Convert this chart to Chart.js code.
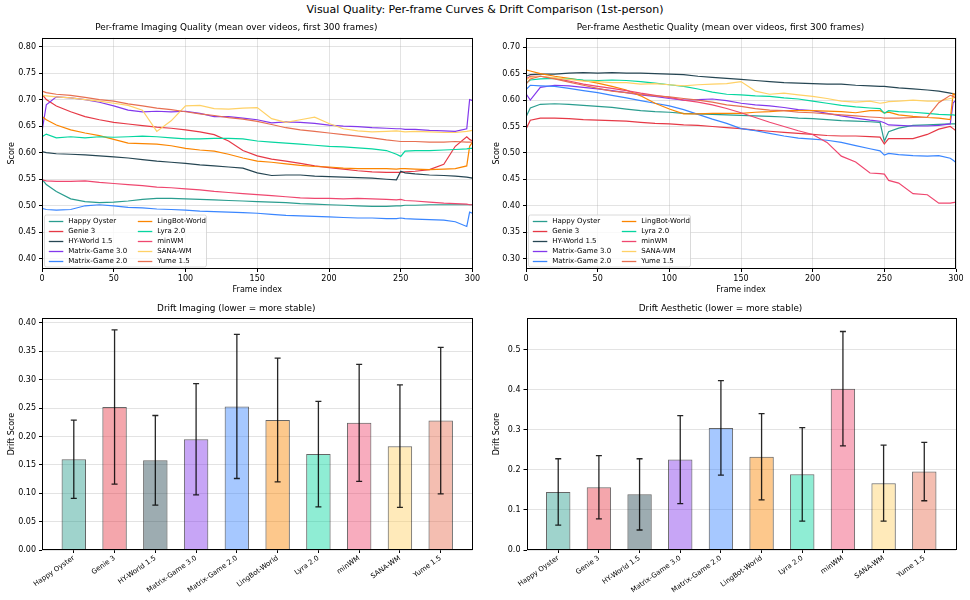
<!DOCTYPE html>
<html>
<head>
<meta charset="utf-8">
<script src="https://cdn.jsdelivr.net/npm/chart.js@4.4.0/dist/chart.umd.min.js"></script>
<style>
  html, body { margin: 0; padding: 0; background: #fff; }
  #page { position: relative; width: 970px; height: 600px; overflow: hidden; font-family: "DejaVu Sans", sans-serif; }
  #suptitle { position: absolute; left: 0; top: 3px; width: 970px; text-align: center; font-size: 11px; color: #000; }
  canvas { position: absolute; }
</style>
</head>
<body>
<div id="page">
  <div id="suptitle">Visual Quality: Per-frame Curves &amp; Drift Comparison (1st-person)</div>
  <canvas id="imgCurve" width="485" height="280" style="left:0px;top:20px"></canvas>
  <canvas id="aesCurve" width="485" height="280" style="left:485px;top:20px"></canvas>
  <canvas id="imgDrift" width="485" height="300" style="left:0px;top:300px"></canvas>
  <canvas id="aesDrift" width="485" height="300" style="left:485px;top:300px"></canvas>
</div>
<script>
// ---- data ----
const models = ['Happy Oyster', 'Genie 3', 'HY-World 1.5', 'Matrix-Game 3.0', 'Matrix-Game 2.0',
                'LingBot-World', 'Lyra 2.0', 'minWM', 'SANA-WM', 'Yume 1.5'];
const colors = ['#2a9d8f', '#e63946', '#264653', '#8338ec', '#3a86ff',
                '#fb8500', '#06d6a0', '#ef476f', '#ffd166', '#e76f51'];

const frames = [0,3,10,20,30,40,50,60,70,80,90,100,110,120,130,140,150,160,170,180,190,200,
                210,220,230,240,247,250,253,260,270,280,288,296,298,300];

// per-frame imaging quality
const imgHappyOyster = [0.550,0.540,0.527,0.513,0.508,0.506,0.507,0.509,0.512,0.514,0.514,0.513,0.512,0.511,0.510,0.509,0.508,0.507,0.506,0.504,0.503,0.502,0.501,0.500,0.499,0.499,0.500,0.500,0.501,0.501,0.502,0.502,0.502,0.502,0.502,0.502];
const imgGenie3 = [0.710,0.700,0.688,0.677,0.668,0.662,0.657,0.654,0.651,0.648,0.646,0.643,0.639,0.634,0.622,0.604,0.594,0.588,0.584,0.580,0.575,0.572,0.569,0.566,0.564,0.563,0.563,0.563,0.564,0.565,0.568,0.578,0.612,0.630,0.625,0.622];
const imgHYWorld = [0.602,0.600,0.598,0.597,0.596,0.594,0.592,0.590,0.587,0.584,0.582,0.580,0.577,0.575,0.573,0.571,0.562,0.557,0.558,0.558,0.556,0.555,0.554,0.553,0.552,0.550,0.549,0.565,0.562,0.560,0.558,0.557,0.556,0.554,0.553,0.552];
const imgMG3 = [0.640,0.690,0.705,0.703,0.700,0.695,0.688,0.680,0.677,0.678,0.677,0.678,0.674,0.668,0.668,0.665,0.662,0.656,0.658,0.657,0.655,0.652,0.650,0.649,0.647,0.646,0.645,0.645,0.644,0.644,0.642,0.641,0.640,0.645,0.700,0.698];
const imgMG2 = [0.495,0.493,0.492,0.493,0.500,0.502,0.500,0.497,0.496,0.494,0.493,0.492,0.490,0.489,0.488,0.487,0.486,0.484,0.482,0.481,0.480,0.479,0.478,0.477,0.477,0.476,0.476,0.477,0.476,0.475,0.474,0.473,0.470,0.461,0.488,0.486];
const imgLingBot = [0.668,0.662,0.652,0.643,0.637,0.632,0.625,0.618,0.617,0.616,0.613,0.608,0.605,0.603,0.597,0.590,0.584,0.582,0.579,0.576,0.574,0.573,0.571,0.570,0.570,0.570,0.569,0.570,0.570,0.569,0.568,0.569,0.570,0.575,0.612,0.620];
const imgLyra = [0.630,0.635,0.628,0.630,0.628,0.630,0.629,0.630,0.631,0.630,0.628,0.626,0.626,0.627,0.627,0.626,0.622,0.620,0.618,0.616,0.614,0.612,0.611,0.609,0.607,0.604,0.597,0.593,0.603,0.604,0.604,0.605,0.606,0.607,0.608,0.608];
const imgMinWM = [0.549,0.547,0.546,0.546,0.547,0.544,0.542,0.540,0.538,0.535,0.534,0.532,0.530,0.527,0.525,0.523,0.521,0.519,0.517,0.515,0.514,0.514,0.513,0.514,0.513,0.512,0.511,0.512,0.510,0.509,0.507,0.505,0.504,0.503,0.502,0.502];
const imgSana = [0.708,0.707,0.705,0.703,0.700,0.697,0.693,0.689,0.680,0.640,0.660,0.688,0.689,0.683,0.682,0.684,0.685,0.664,0.657,0.662,0.667,0.655,0.645,0.641,0.639,0.640,0.641,0.640,0.639,0.640,0.639,0.638,0.638,0.640,0.641,0.642];
const imgYume = [0.716,0.713,0.710,0.708,0.704,0.700,0.697,0.692,0.688,0.684,0.681,0.677,0.673,0.670,0.666,0.663,0.659,0.653,0.647,0.643,0.640,0.637,0.634,0.631,0.628,0.624,0.622,0.621,0.621,0.621,0.620,0.620,0.621,0.620,0.620,0.620];

// per-frame aesthetic quality
const aesHappyOyster = [0.568,0.585,0.592,0.593,0.592,0.590,0.588,0.586,0.583,0.580,0.578,0.577,0.575,0.574,0.573,0.572,0.571,0.570,0.569,0.568,0.566,0.565,0.563,0.561,0.560,0.559,0.558,0.522,0.540,0.547,0.552,0.553,0.554,0.555,0.555,0.555];
const aesGenie3 = [0.545,0.562,0.566,0.566,0.565,0.563,0.562,0.561,0.560,0.558,0.556,0.555,0.553,0.552,0.550,0.548,0.546,0.543,0.541,0.539,0.537,0.535,0.533,0.532,0.532,0.531,0.530,0.517,0.527,0.527,0.527,0.535,0.545,0.550,0.546,0.542];
const aesHYWorld = [0.645,0.648,0.649,0.649,0.651,0.652,0.651,0.652,0.651,0.651,0.650,0.649,0.648,0.645,0.643,0.641,0.639,0.637,0.635,0.633,0.632,0.631,0.630,0.630,0.628,0.627,0.626,0.626,0.625,0.623,0.621,0.619,0.617,0.613,0.612,0.611];
const aesMG3 = [0.612,0.600,0.624,0.628,0.627,0.624,0.621,0.618,0.614,0.610,0.607,0.603,0.600,0.601,0.602,0.599,0.594,0.591,0.589,0.586,0.582,0.580,0.575,0.570,0.566,0.562,0.560,0.557,0.553,0.552,0.551,0.551,0.552,0.555,0.595,0.600];
const aesMG2 = [0.620,0.628,0.627,0.626,0.622,0.618,0.614,0.609,0.604,0.599,0.594,0.589,0.582,0.573,0.564,0.556,0.546,0.542,0.537,0.532,0.528,0.526,0.524,0.520,0.514,0.508,0.504,0.496,0.499,0.497,0.495,0.494,0.495,0.490,0.486,0.482];
const aesLingBot = [0.657,0.655,0.650,0.645,0.641,0.637,0.632,0.626,0.619,0.608,0.594,0.583,0.574,0.574,0.575,0.575,0.575,0.577,0.578,0.580,0.580,0.580,0.579,0.578,0.576,0.580,0.580,0.576,0.577,0.572,0.569,0.567,0.566,0.563,0.612,0.608];
const aesLyra = [0.632,0.638,0.640,0.641,0.640,0.638,0.637,0.638,0.637,0.635,0.632,0.629,0.626,0.621,0.615,0.611,0.610,0.608,0.607,0.604,0.602,0.598,0.594,0.590,0.587,0.585,0.584,0.575,0.580,0.578,0.577,0.575,0.573,0.572,0.572,0.571];
const aesMinWM = [0.640,0.645,0.645,0.641,0.636,0.630,0.626,0.622,0.618,0.613,0.609,0.605,0.600,0.596,0.591,0.584,0.576,0.567,0.558,0.550,0.542,0.535,0.520,0.494,0.483,0.462,0.461,0.460,0.448,0.443,0.423,0.421,0.405,0.405,0.406,0.407];
const aesSana = [0.638,0.643,0.645,0.642,0.639,0.636,0.635,0.633,0.633,0.630,0.631,0.629,0.627,0.629,0.630,0.631,0.635,0.617,0.611,0.613,0.610,0.607,0.603,0.598,0.596,0.598,0.594,0.595,0.597,0.598,0.600,0.598,0.598,0.603,0.604,0.605];
const aesYume = [0.630,0.640,0.645,0.640,0.634,0.628,0.622,0.617,0.614,0.611,0.608,0.606,0.603,0.600,0.596,0.591,0.588,0.584,0.581,0.580,0.577,0.576,0.574,0.572,0.570,0.568,0.567,0.566,0.566,0.566,0.567,0.568,0.595,0.609,0.607,0.604];

// drift (mean and std)
const driftImgMean = [0.160, 0.252, 0.158, 0.195, 0.253, 0.229, 0.169, 0.224, 0.183, 0.228];
const driftImgStd  = [0.069, 0.136, 0.079, 0.098, 0.127, 0.109, 0.093, 0.103, 0.108, 0.129];
const driftAesMean = [0.145, 0.157, 0.139, 0.226, 0.305, 0.233, 0.189, 0.403, 0.167, 0.196];
const driftAesStd  = [0.083, 0.079, 0.089, 0.110, 0.118, 0.108, 0.117, 0.143, 0.095, 0.073];

// tick labels
const frameTicks = [0, 50, 100, 150, 200, 250, 300];
const imgCurveTicks = [0.40, 0.45, 0.50, 0.55, 0.60, 0.65, 0.70, 0.75, 0.80];
const aesCurveTicks = [0.30, 0.35, 0.40, 0.45, 0.50, 0.55, 0.60, 0.65, 0.70];
const imgDriftTicks = [0.00, 0.05, 0.10, 0.15, 0.20, 0.25, 0.30, 0.35, 0.40];
const aesDriftTicks = [0.0, 0.1, 0.2, 0.3, 0.4, 0.5];

const imgSeries = [imgHappyOyster, imgGenie3, imgHYWorld, imgMG3, imgMG2, imgLingBot, imgLyra, imgMinWM, imgSana, imgYume];
const aesSeries = [aesHappyOyster, aesGenie3, aesHYWorld, aesMG3, aesMG2, aesLingBot, aesLyra, aesMinWM, aesSana, aesYume];

// ---- helpers ----
Chart.defaults.font.family = '"DejaVu Sans", sans-serif';
Chart.defaults.color = '#000';

function fade(hex, a) {
  const n = parseInt(hex.slice(1), 16);
  return 'rgba(' + (n >> 16) + ',' + ((n >> 8) & 255) + ',' + (n & 255) + ',' + a + ')';
}

const GRID = 'rgba(176,176,176,0.35)';

// black box round the plot area (all four spines)
const spines = {
  id: 'spines',
  afterDraw(chart) {
    const a = chart.chartArea, ctx = chart.ctx;
    ctx.save();
    ctx.strokeStyle = '#000';
    ctx.lineWidth = 1;
    ctx.strokeRect(Math.round(a.left) + 0.5, Math.round(a.top) + 0.5,
                   Math.round(a.right - a.left) - 1, Math.round(a.bottom - a.top) - 1);
    ctx.restore();
  }
};

// two-column legend in the lower-left corner of the plot
const boxLegend = {
  id: 'boxLegend',
  afterDraw(chart) {
    const a = chart.chartArea, ctx = chart.ctx;
    const bw = 162, bh = 52;
    const bx = a.left + 2.5, by = a.bottom - 2 - bh;
    ctx.save();
    ctx.beginPath();
    ctx.roundRect(bx, by, bw, bh, 2);
    ctx.fillStyle = 'rgba(255,255,255,0.8)';
    ctx.fill();
    ctx.strokeStyle = '#d0d0d0';
    ctx.lineWidth = 0.8;
    ctx.stroke();
    ctx.font = '7px "DejaVu Sans"';
    ctx.textBaseline = 'middle';
    chart.data.datasets.forEach((ds, i) => {
      const hx = bx + (i < 5 ? 4.3 : 93.3);
      const ty = by + 6.5 + (i % 5) * 10;
      ctx.strokeStyle = ds.borderColor;
      ctx.lineWidth = 1.3;
      ctx.beginPath();
      ctx.moveTo(hx, ty);
      ctx.lineTo(hx + 14.5, ty);
      ctx.stroke();
      ctx.fillStyle = '#000';
      ctx.fillText(ds.label, hx + 19.4, ty);
    });
    ctx.restore();
  }
};

// symmetric error bars (std) on top of the bars
const errorBars = {
  id: 'errorBars',
  afterDatasetsDraw(chart) {
    const ctx = chart.ctx, x = chart.scales.x, y = chart.scales.y;
    const ds = chart.data.datasets[0];
    ctx.save();
    ctx.strokeStyle = 'rgba(0,0,0,0.85)';
    ctx.lineWidth = 1.3;
    ds.data.forEach((p, i) => {
      const px = x.getPixelForValue(p.x);
      const top = y.getPixelForValue(p.y + ds.errors[i]);
      const bot = y.getPixelForValue(p.y - ds.errors[i]);
      ctx.beginPath();
      ctx.moveTo(px, top); ctx.lineTo(px, bot);
      ctx.moveTo(px - 3, top); ctx.lineTo(px + 3, top);
      ctx.moveTo(px - 3, bot); ctx.lineTo(px + 3, bot);
      ctx.stroke();
    });
    ctx.restore();
  }
};

function curveChart(id, title, series, yMin, yMax, yTicks, yAxisW, padRight) {
  const datasets = series.map((vals, i) => ({
    label: models[i],
    data: frames.map((f, k) => ({ x: f, y: vals[k] })),
    borderColor: colors[i],
    borderWidth: 1.2,
    pointRadius: 0,
    tension: 0,
    order: 10 - i
  }));
  return new Chart(document.getElementById(id), {
    type: 'line',
    data: { datasets },
    options: {
      responsive: false,
      animation: false,
      layout: { padding: { left: 0, right: padRight, top: 0, bottom: 0 } },
      plugins: {
        legend: { display: false },
        tooltip: { enabled: false },
        title: { display: true, text: title, font: { size: 8.9, weight: 'normal' }, padding: { top: 2.4, bottom: 4.6 } }
      },
      scales: {
        x: {
          type: 'linear', min: 0, max: 300,
          afterBuildTicks: s => { s.ticks = frameTicks.map(v => ({ value: v })); },
          afterFit: s => { s.height = 31; },
          ticks: { font: { size: 8 }, padding: 2, maxRotation: 0 },
          grid: { color: GRID, tickColor: '#000', tickLength: 3 },
          border: { display: false },
          title: { display: true, text: 'Frame index', font: { size: 8 }, padding: { top: 0, bottom: 5.5 } }
        },
        y: {
          min: yMin, max: yMax,
          afterBuildTicks: s => { s.ticks = yTicks.map(v => ({ value: v })); },
          afterFit: s => { s.width = yAxisW; },
          ticks: { font: { size: 8 }, padding: 3, callback: v => v.toFixed(2) },
          grid: { color: GRID, tickColor: '#000', tickLength: 3 },
          border: { display: false },
          title: { display: true, text: 'Score', font: { size: 8 }, padding: { top: 7.5, bottom: 0 } }
        }
      }
    },
    plugins: [spines, boxLegend]
  });
}

function driftChart(id, title, mean, std, yMax, yTicks, decimals, yAxisW, padRight) {
  return new Chart(document.getElementById(id), {
    type: 'bar',
    data: {
      datasets: [{
        data: mean.map((v, i) => ({ x: i, y: v })),
        errors: std,
        backgroundColor: colors.map(c => fade(c, 0.45)),
        borderColor: 'rgba(0,0,0,0.6)',
        borderWidth: 1,
        barPercentage: 0.6,
        categoryPercentage: 1
      }]
    },
    options: {
      responsive: false,
      animation: false,
      layout: { padding: { left: 0, right: padRight, top: 0, bottom: 0 } },
      plugins: {
        legend: { display: false },
        tooltip: { enabled: false },
        title: { display: true, text: title, font: { size: 8.9, weight: 'normal' }, padding: { top: 3.4, bottom: 4.2 } }
      },
      scales: {
        x: {
          type: 'linear', min: -0.78, max: 9.78, offset: false,
          afterBuildTicks: s => { s.ticks = models.map((m, i) => ({ value: i })); },
          afterFit: s => { s.height = 50; },
          ticks: { font: { size: 7 }, padding: 1, autoSkip: false, minRotation: 35, maxRotation: 35,
                   callback: v => models[v] },
          grid: { offset: false, drawOnChartArea: false, tickColor: '#000', tickLength: 3 },
          border: { display: false }
        },
        y: {
          min: 0, max: yMax,
          afterBuildTicks: s => { s.ticks = yTicks.map(v => ({ value: v })); },
          afterFit: s => { s.width = yAxisW; },
          ticks: { font: { size: 8 }, padding: 3, callback: v => v.toFixed(decimals) },
          grid: { color: GRID, tickColor: '#000', tickLength: 3 },
          border: { display: false },
          title: { display: true, text: 'Drift Score', font: { size: 8 }, padding: { top: 7.5, bottom: 0 } }
        }
      }
    },
    plugins: [spines, errorBars]
  });
}

curveChart('imgCurve', 'Per-frame Imaging Quality (mean over videos, first 300 frames)',
           imgSeries, 0.381, 0.8165, imgCurveTicks, 42, 12.5);
curveChart('aesCurve', 'Per-frame Aesthetic Quality (mean over videos, first 300 frames)',
           aesSeries, 0.2805, 0.718, aesCurveTicks, 41, 14);
driftChart('imgDrift', 'Drift Imaging (lower = more stable)', driftImgMean, driftImgStd,
           0.4083, imgDriftTicks, 2, 42, 12.5);
driftChart('aesDrift', 'Drift Aesthetic (lower = more stable)', driftAesMean, driftAesStd,
           0.579, aesDriftTicks, 1, 41.5, 14);
</script>
</body>
</html>
